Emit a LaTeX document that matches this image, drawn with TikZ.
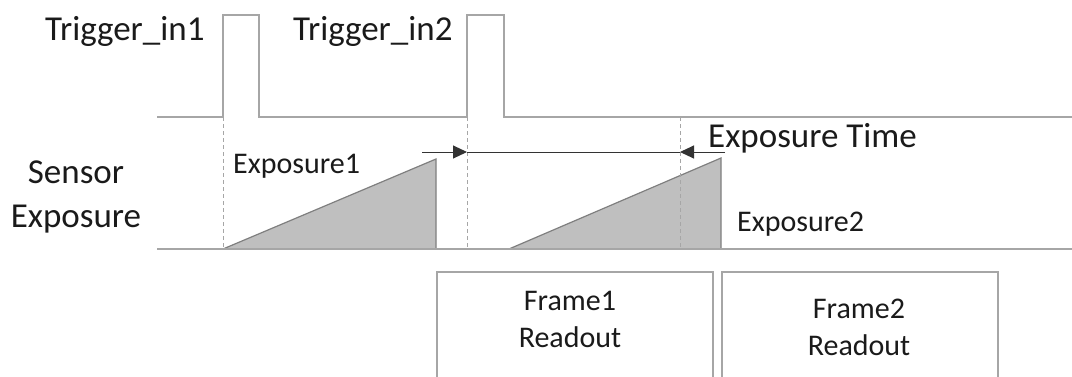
\documentclass[tikz,border=0pt]{standalone}
\usepackage{fontspec}
\setmainfont{Carlito}
\usepackage{tikz}
\usetikzlibrary{arrows.meta,positioning}
\definecolor{LineGray}{HTML}{A6A6A6}
\definecolor{EdgeGray}{HTML}{7F7F7F}
\definecolor{FillGray}{HTML}{BFBFBF}
\definecolor{TextDark}{HTML}{1A1A1A}
\tikzset{
  bigtext/.style={
    inner sep=0pt,
    font=\fontsize{35}{44}\selectfont,
    text=TextDark,
    align=center
  },
  smalltext/.style={
    inner sep=0pt,
    font=\fontsize{30}{36.5}\selectfont,
    text=TextDark,
    align=center
  },
  signal/.style={
    line width=1.5pt,
    draw=LineGray
  },
  guide/.style={
    dash pattern=on 4pt off 3pt,
    line width=1pt,
    draw=LineGray
  },
  ramp/.style={
    line width=1.2pt,
    draw=EdgeGray,
    fill=FillGray
  },
  dimline/.style={
    line width=1pt,
    draw=black!80
  },
  dimarrow/.style={
    dimline,
    -{Triangle[length=14pt,width=13pt]}
  },
  readbox/.style={
    draw=LineGray,
    line width=1.5pt,
    anchor=north west,
    minimum width=276pt,
    minimum height=150pt
  }
}

\begin{document}
\begin{tikzpicture}[x=1pt,y=-1pt]
\useasboundingbox (0,0) rectangle (1072,376);
\clip (0,0) rectangle (1072,376);
% key times
\coordinate (start) at (157,117);
\coordinate (trig1) at (223,117);
\coordinate (trig2) at (467,117);
\coordinate (expend) at (680,117);
\coordinate (base) at (157,249);
\coordinate (baseend) at (1072,249);
% trigger signal
\draw[signal] (start) -- (trig1) -- ++(0,-102) -- ++(36,0) -- ++(0,102)
  -- (trig2) -- ++(0,-102) -- ++(37,0) -- ++(0,102) -- (1072,117);
% exposure ramps
\draw[ramp] (trig1 |- base) -- (436,159) -- (436,249) -- cycle;
\draw[ramp] (509,249) -- (721,158) -- (721,249) -- cycle;
\draw[signal] (base) -- (baseend);
% guides
\draw[guide] (trig1) -- (trig1 |- base);
\draw[guide] (trig2) -- (trig2 |- base);
\draw[guide] (expend) -- (expend |- base);
% exposure time
\coordinate (dimleft) at (422,152);
\coordinate (dimright) at (725,152);
\draw[dimarrow] (dimleft) -- (trig2 |- dimleft);
\draw[dimline] (trig2 |- dimleft) -- (expend |- dimleft);
\draw[dimarrow] (dimright) -- (expend |- dimleft);
% labels
\node[bigtext, anchor=base west] (trigin1) at (45,40) {Trigger\_in1};
\node[bigtext, anchor=base west] (trigin2) at (293,40) {Trigger\_in2};
\node[bigtext, anchor=base] (sensor) at (76,227) {Sensor\\Exposure};
\node[bigtext, anchor=base west] (exptime) at (708,147) {Exposure Time};
\node[smalltext, anchor=base west] (exp1) at (233,173) {Exposure1};
\node[smalltext, anchor=base west] (exp2) at (737,231) {Exposure2};
% readout boxes
\node[readbox] (box1) at (436,271) {};
\node[readbox] (box2) at (721,271) {};
\node[smalltext, anchor=base] (read1) at (570,347) {Frame1\\Readout};
\node[smalltext, anchor=base] (read2) at (859,355) {Frame2\\Readout};
\end{tikzpicture}
\end{document}
